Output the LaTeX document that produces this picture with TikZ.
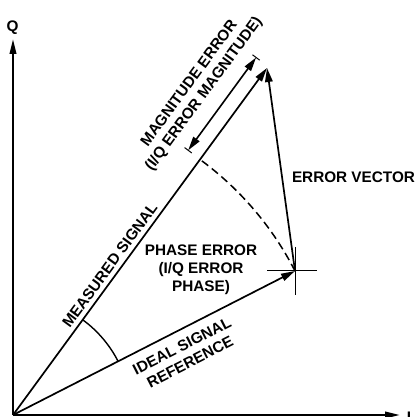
\documentclass[tikz,border=0pt]{standalone}
\usepackage{fontspec}
\setmainfont{Liberation Sans}
\usetikzlibrary{arrows.meta}

\begin{document}
\begin{tikzpicture}[
  x=1pt, y=1pt,
  font=\fontsize{15.3}{18}\selectfont\bfseries,
  ax/.style={line width=2pt, -{Triangle[length=15pt, width=6.5pt]}},
  vec/.style={line width=1.7pt, -{Triangle[length=14pt, width=7.5pt]}},
  dimln/.style={line width=1.6pt, {Triangle[length=14pt, width=7.5pt]}-{Triangle[length=14pt, width=7.5pt]}},
  thin/.style={line width=1pt},
  lbl/.style={align=center, inner sep=0pt}
]
\useasboundingbox (-13,-2) rectangle (404,415);

% axes and vectors
\coordinate (O)     at (0,0);
\coordinate (qtip)  at (0,376);
\coordinate (itip)  at (387,0);
\coordinate (ideal) at (282,144);
\coordinate (meas)  at (254,347);

\draw[ax] (O) -- (qtip);
\draw[ax] (O) -- (itip);
\node[lbl] (qlbl) at (-0.5,387) {Q};
\node[lbl] (ilbl) at (396,-2)   {I};

\draw[vec] (O) -- (ideal);
\draw[vec] (O) -- (meas);
\draw[vec] (ideal) -- (meas);

% cross at the ideal signal tip
\coordinate (crl) at (254,144);
\coordinate (crr) at (304,144);
\coordinate (crt) at (282,168);
\coordinate (crb) at (282,120);
\draw[thin] (crl) -- (crr);
\draw[thin] (crt) -- (crb);

% phase angle and reference arc
\draw[line width=1.4pt] (27.05:118) arc[start angle=27.05, end angle=53.8, radius=118];
\draw[line width=1.5pt, dash pattern=on 8pt off 4.5pt]
  (ideal) arc[start angle=27.05, end angle=53.8, radius=316.6];

% magnitude error dimension
\coordinate (mag1) at (175.2,264.7);
\coordinate (mag2) at (243.1,357.5);
\coordinate (tk1a) at (171.6,267.4);
\coordinate (tk1b) at (178.8,262.0);
\coordinate (tk2a) at (239.5,360.2);
\coordinate (tk2b) at (246.7,354.8);
\draw[thin] (tk1a) -- (tk1b);
\draw[thin] (tk2a) -- (tk2b);
\draw[dimln] (mag1) -- (mag2);

% labels
\node[lbl, rotate=53.8] (magtxt)   at (184,326)    {MAGNITUDE ERROR\\(I/Q ERROR MAGNITUDE)};
\node[lbl, rotate=53.8] (meastxt)  at (96.7,149.8) {MEASURED SIGNAL};
\node[lbl, rotate=27.05] (idealtxt) at (173,61)     {IDEAL SIGNAL\\REFERENCE};
\node[lbl] (phasetxt) at (188,145)    {PHASE ERROR\\(I/Q ERROR\\PHASE)};
\node[lbl] (errtxt)   at (340.5,237.5) {ERROR VECTOR};
\end{tikzpicture}
\end{document}
